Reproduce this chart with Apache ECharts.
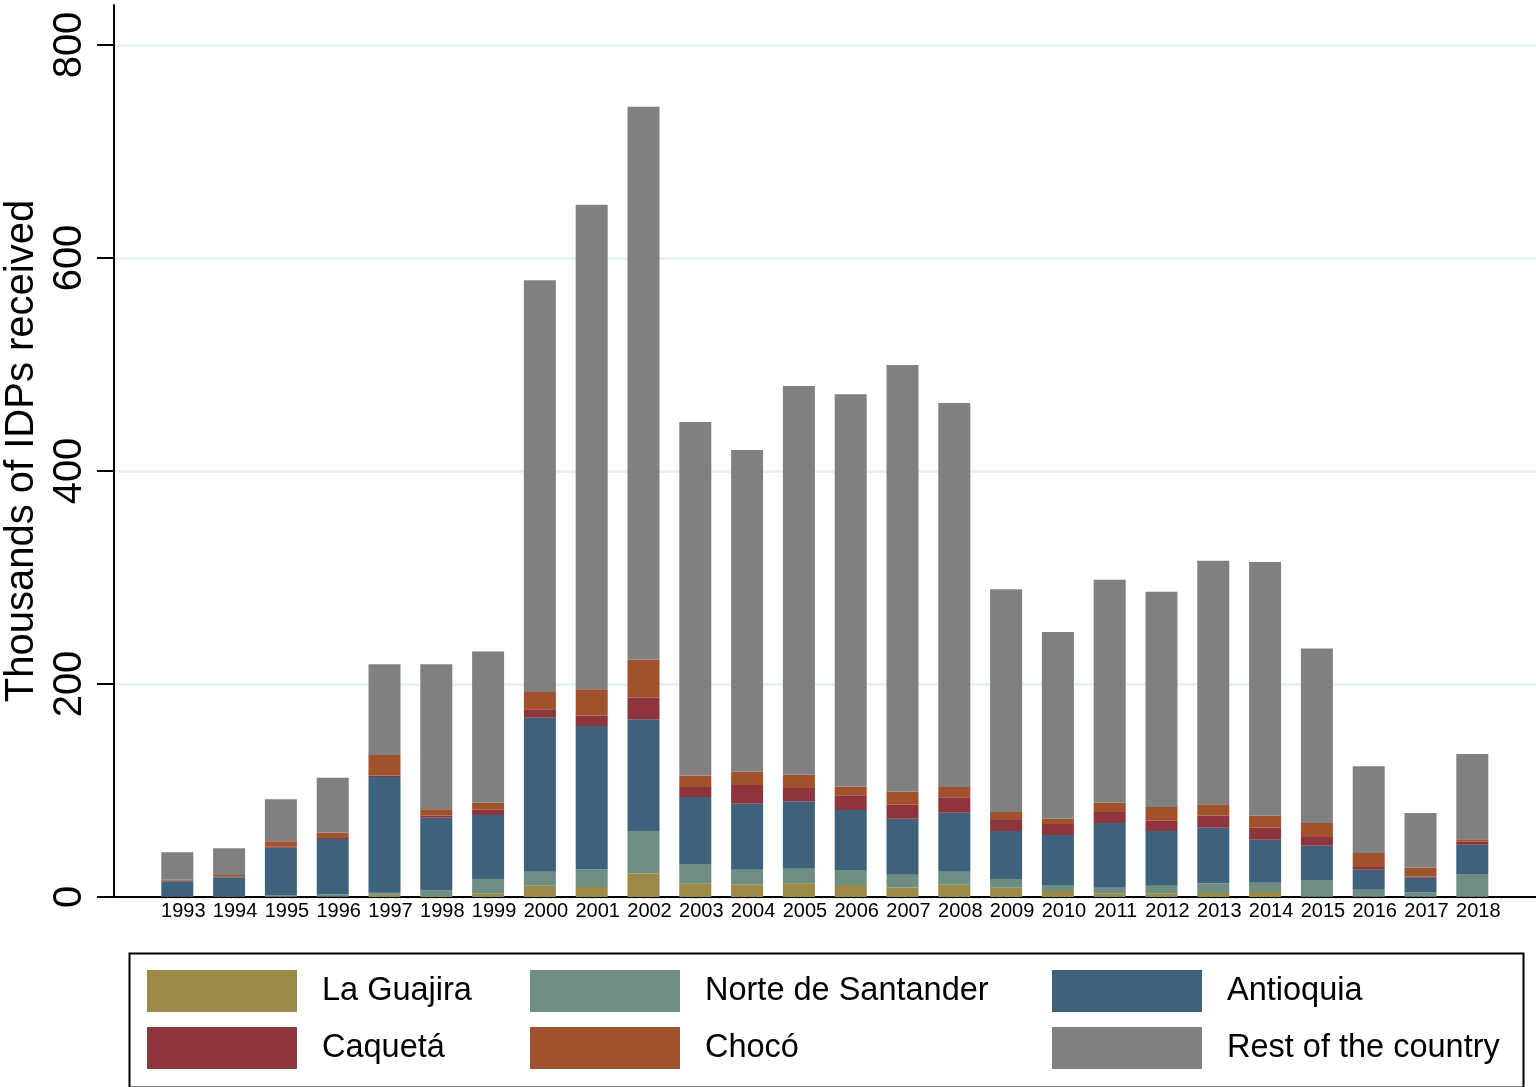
<!DOCTYPE html>
<html>
<head>
<meta charset="utf-8">
<script src="https://cdn.jsdelivr.net/npm/echarts@6/dist/echarts.min.js"></script>
<style>html,body{margin:0;padding:0;background:#fff}#c{width:1536px;height:1087px}</style>
</head>
<body>
<div id="c"></div>
<script>
const years = ['1993','1994','1995','1996','1997','1998','1999','2000','2001','2002','2003','2004','2005','2006','2007','2008','2009','2010','2011','2012','2013','2014','2015','2016','2017','2018'];
const laGuajira = [0.2,0.3,0.3,0.5,2,1,3,10.5,9.4,22,12.8,12,12.8,11.3,9,11.5,8.7,5.6,3,3,3.8,4.7,0.3,0.5,0.3,0.3];
const norteSantander = [0.3,0.3,1,2,2,5,14,13.3,16.6,40,18.2,13.6,13.8,14,12,12.3,8.2,5.7,5.6,7.6,9,8.7,15.7,6.4,4,21.3];
const antioquia = [14.2,18,45,52,108.7,68.5,60,144.6,134.6,105,63,62,63.3,56.3,52.5,55.4,45,46.9,60.8,51.4,52.2,40.4,32.2,18.7,13.7,27.5];
const caqueta = [0.5,0.5,1,1,1.3,2,5,8,9.6,20,9.4,17.6,12.4,14,13.2,14.4,10.3,10.3,10.3,9.6,11.3,11.2,8.1,2.6,1.3,2.8];
const choco = [1,1.5,5,5,19.3,6,6.5,16,24.8,35.7,10.6,12.5,12.5,8,12.2,9.7,7.7,5,8.7,12.9,10.7,11.3,13.2,13.1,8.1,2.3];
const restOfCountry = [25.8,25.1,39.4,51.5,85.2,136,142.1,386.6,455,519.3,332,302,365,368.4,400.6,360.5,209.1,175.3,209.6,202.2,228.8,238.3,163.8,81.4,51.5,80.1];
const yTicks = [0,200,400,600,800];

const seriesDefs = [
  {name:'La Guajira', data: laGuajira, color:'#9c8847'},
  {name:'Norte de Santander', data: norteSantander, color:'#6d8e80'},
  {name:'Antioquia', data: antioquia, color:'#3e627c'},
  {name:'Caquetá', data: caqueta, color:'#8e343d'},
  {name:'Chocó', data: choco, color:'#a0522d'},
  {name:'Rest of the country', data: restOfCountry, color:'#808080'}
];

const font = "'Liberation Sans', Arial, Helvetica, sans-serif";
const yMax = 837.56;
const chart = echarts.init(document.getElementById('c'), null, {renderer:'canvas'});

function legendCol(names, left) {
  return {
    orient:'vertical', left: left, top: 970, padding: 0,
    itemWidth: 150, itemHeight: 42, itemGap: 15, icon: 'rect',
    selectedMode: false,
    data: names,
    textStyle: {fontFamily: font, fontSize: 32.5, color:'#000', padding:[0,0,0,20]}
  };
}

chart.setOption({
  animation: false,
  backgroundColor: '#fff',
  grid: [
    {left: 114, right: 0, top: 5, bottom: 190, outerBoundsMode: 'none', containLabel: false},
    {left: 151.4, right: 37.8, top: 5, bottom: 190, outerBoundsMode: 'none', containLabel: false}
  ],
  xAxis: [
    {
      gridIndex: 0, type: 'value', min: 0, max: 1,
      axisLine: {show: true, lineStyle: {color:'#000', width: 2}},
      axisTick: {show: false}, splitLine: {show: false}, axisLabel: {show: false}
    },
    {
      gridIndex: 1, type: 'category', data: years,
      axisLine: {show: false}, axisTick: {show: false}, splitLine: {show: false},
      axisLabel: {interval: 0, fontFamily: font, fontSize: 20, color:'#000', margin: 4, padding: [0,0,0,12]}
    }
  ],
  yAxis: [
    {
      gridIndex: 0, type: 'value', min: 0, max: yMax,
      axisLine: {show: true, lineStyle: {color:'#000', width: 2}},
      axisTick: {show: true, length: 17, customValues: yTicks, lineStyle: {color:'#000', width: 2}},
      axisLabel: {customValues: yTicks, rotate: 90, fontFamily: font, fontSize: 40, color:'#000', margin: 24},
      splitLine: {show: true, lineStyle: {color:'#e9f1f3', width: 3}},
      name: 'Thousands of IDPs received',
      nameLocation: 'middle', nameRotate: 90, nameGap: 64,
      nameTextStyle: {fontFamily: font, fontSize: 40, color:'#000'}
    },
    {
      gridIndex: 1, type: 'value', min: 0, max: yMax,
      axisLine: {show: false}, axisTick: {show: false}, axisLabel: {show: false}, splitLine: {show: false}
    }
  ],
  legend: [
    legendCol(['La Guajira','Caquetá'], 147),
    legendCol(['Norte de Santander','Chocó'], 530),
    legendCol(['Antioquia','Rest of the country'], 1052)
  ],
  graphic: [{
    type:'rect', left: 127, top: 951,
    shape:{width: 1394, height: 134},
    style:{fill:'none', stroke:'#000', lineWidth: 2}
  }],
  series: seriesDefs.map(s => ({
    name: s.name, type: 'bar', stack: 'total', barWidth: 32,
    xAxisIndex: 1, yAxisIndex: 1,
    itemStyle: {color: s.color},
    data: s.data
  }))
});
</script>
</body>
</html>
